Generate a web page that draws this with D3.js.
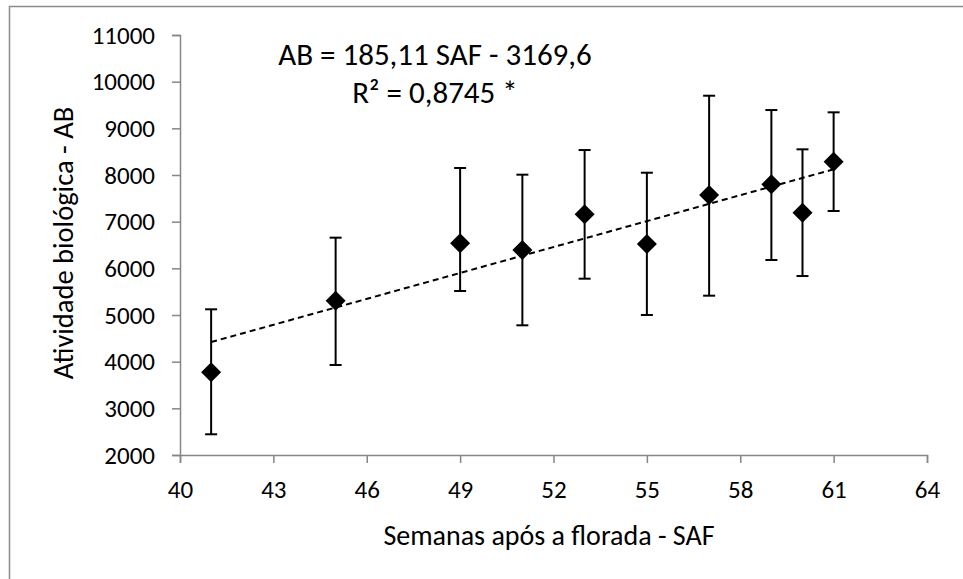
<!DOCTYPE html>
<html><head><meta charset="utf-8">
<script src="https://cdn.jsdelivr.net/npm/d3@7"></script>
<style>body{margin:0;background:#fff}svg{display:block}text{font-family:Calibri,Carlito,Lato,"Open Sans",sans-serif;fill:#000}</style>
</head><body>
<svg id="c" width="963" height="579"></svg>
<script>
const saf = [41, 45, 49, 51, 53, 55, 57, 59, 60, 61];
const ab = [3772, 5306, 6536, 6393, 7157, 6521, 7571, 7800, 7192, 8285];
const abLow = [2444, 3928, 5514, 4779, 5778, 5000, 5414, 6178, 5835, 7228];
const abHigh = [5122, 6657, 8150, 8007, 8535, 8049, 9699, 9392, 8550, 9343];
const xTicks = [40, 43, 46, 49, 52, 55, 58, 61, 64];
const yTicks = [2000, 3000, 4000, 5000, 6000, 7000, 8000, 9000, 10000, 11000];
const slope = 185.11, intercept = -3169.6;
const eqLabel = "AB = 185,11 SAF - 3169,6";
const r2Label = "R² = 0,8745 *";
const xTitle = "Semanas após a florada - SAF";
const yTitle = "Atividade biológica - AB";

const svg = d3.select("#c");
const x = d3.scaleLinear().domain([40, 64]).range([180, 927]);
const y = d3.scaleLinear().domain([2000, 11000]).range([455, 35]);
const axisColor = "#868686";
const fs = 25;

svg.append("path").attr("d", "M9.5,579V6.5H963").attr("fill", "none").attr("stroke", "#8c8c8c").attr("stroke-width", 1.5);

const gx = svg.append("g").attr("transform", "translate(0,455)")
  .call(d3.axisBottom(x).tickValues(xTicks).tickSize(8).tickFormat(d3.format("d")));
const gy = svg.append("g").attr("transform", "translate(180,0)")
  .call(d3.axisLeft(y).tickValues(yTicks).tickSize(8).tickPadding(17).tickFormat(d3.format("d")));
[gx, gy].forEach(g => {
  g.selectAll("path,line").attr("stroke", axisColor).attr("stroke-width", 1.5);
  g.selectAll("text").style("font-size", fs + "px").attr("fill", "#000");
});
gx.selectAll("text").attr("y", 43).attr("dy", null);

svg.append("text").attr("x", 549).attr("y", 545).attr("text-anchor", "middle").style("font-size", "28px").text(xTitle);
svg.append("text").attr("transform", "translate(73,243) rotate(-90)").attr("text-anchor", "middle").style("font-size", "28.5px").text(yTitle);

// trendline
svg.append("line")
  .attr("x1", x(saf[0])).attr("y1", y(slope * saf[0] + intercept))
  .attr("x2", x(saf[saf.length - 1])).attr("y2", y(slope * saf[saf.length - 1] + intercept))
  .attr("stroke", "#000").attr("stroke-width", 2).attr("stroke-dasharray", "6,4");

const data = saf.map((s, i) => ({ s, v: ab[i], lo: abLow[i], hi: abHigh[i] }));
const eb = svg.append("g").attr("stroke", "#000").attr("stroke-width", 2);
data.forEach(d => {
  eb.append("line").attr("x1", x(d.s)).attr("x2", x(d.s)).attr("y1", y(d.lo)).attr("y2", y(d.hi));
  [d.lo, d.hi].forEach(v => eb.append("line").attr("x1", x(d.s) - 6).attr("x2", x(d.s) + 6).attr("y1", y(v)).attr("y2", y(v)));
});
svg.append("g").selectAll("path").data(data).join("path")
  .attr("transform", d => `translate(${x(d.s)},${y(d.v)}) rotate(45)`)
  .attr("d", d3.symbol(d3.symbolSquare, 200)).attr("fill", "#000");

svg.append("text").attr("x", 435).attr("y", 65).attr("text-anchor", "middle").style("font-size", "31px").text(eqLabel);
svg.append("text").attr("x", 435).attr("y", 103).attr("text-anchor", "middle").style("font-size", "31px").text(r2Label);
</script>
</body></html>
